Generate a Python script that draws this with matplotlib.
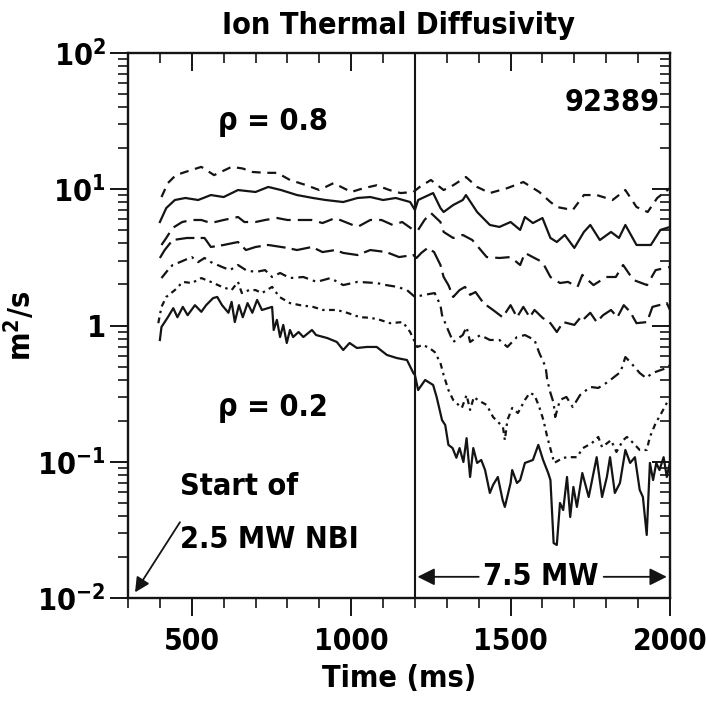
import matplotlib
matplotlib.use('Agg')
import matplotlib.pyplot as plt
import matplotlib.font_manager as fm
from matplotlib.ticker import FixedLocator, MultipleLocator, FixedFormatter, LogLocator, NullFormatter

# prefer a condensed bold face if one is installed, else Liberation Sans
cond = [f.name for f in fm.fontManager.ttflist
        if ('cond' in str(f.stretch) or 'narrow' in f.name.lower()) and str(f.weight) in ('700', 'bold')]
if cond:
    plt.rcParams['font.family'] = [cond[0], 'DejaVu Sans']
    plt.rcParams['font.stretch'] = 'condensed'
else:
    plt.rcParams['font.family'] = ['Liberation Sans', 'DejaVu Sans']
plt.rcParams['font.weight'] = 'bold'
plt.rcParams['mathtext.default'] = 'regular'
FS = 22

# rho = 0.8 side (top) down to rho = 0.2 (bottom)
t1 = [405, 425, 450, 480, 530, 570, 625, 660, 690, 730, 768, 808, 860, 900, 945, 1000, 1040, 1080, 1120, 1155,
      1195, 1215, 1250, 1290, 1320, 1360, 1395, 1435, 1490, 1540, 1590, 1625, 1645, 1695, 1730, 1770, 1820, 1860,
      1895, 1930, 1960, 2000]
chi1 = [8.77, 11.1, 12.7, 13.4, 14.6, 12.7, 14.6, 14.2, 13.4, 13.2, 13.2, 11.7, 10.7, 9.87, 11.1, 9.55, 10.2, 10.7,
        9.87, 9.38, 9.55, 10.4, 11.7, 9.87, 10.7, 12.3, 10.4, 9.38, 10.2, 11.3, 9.55, 8.06, 7.41, 7.04, 9.07, 9.07,
        8.34, 9.87, 7.41, 6.81, 8.63, 10.2]

t2 = [400, 420, 447, 480, 520, 560, 600, 645, 700, 740, 780, 830, 880, 920, 975, 1020, 1060, 1100, 1140, 1185,
      1200, 1210, 1230, 1257, 1280, 1290, 1320, 1350, 1360, 1395, 1435, 1465, 1500, 1530, 1545, 1570, 1600, 1625,
      1645, 1670, 1700, 1730, 1750, 1780, 1815, 1840, 1860, 1895, 1940, 1970, 2000]
chi2 = [5.75, 7.28, 8.34, 8.63, 8.34, 9.07, 8.77, 9.87, 9.55, 10.4, 9.87, 9.07, 8.63, 8.34, 8.06, 8.63, 8.77, 8.34,
        8.63, 8.06, 7.04, 8.34, 8.77, 9.38, 7.28, 6.81, 7.66, 8.34, 9.07, 6.81, 5.47, 5.29, 5.75, 5.03, 6.26, 5.65,
        6.15, 4.39, 4.10, 4.62, 3.71, 4.86, 5.47, 4.24, 4.86, 4.39, 5.47, 3.90, 3.90, 5.03, 5.29]

t3 = [405, 420, 440, 470, 500, 530, 560, 600, 645, 665, 700, 730, 768, 800, 830, 877, 910, 950, 1020, 1060, 1095,
      1130, 1160, 1195, 1210, 1230, 1250, 1280, 1290, 1320, 1350, 1380, 1425, 1465, 1500, 1530, 1545, 1575, 1600,
      1625, 1655, 1680, 1710, 1725, 1760, 1800, 1830, 1853, 1885, 1928, 1955, 2000]
chi3 = [3.90, 4.39, 5.20, 5.75, 5.95, 5.95, 5.65, 5.95, 6.26, 5.75, 5.75, 5.95, 6.15, 5.95, 5.95, 5.95, 5.65, 6.15,
        5.29, 5.95, 5.95, 5.47, 5.75, 5.03, 5.03, 5.95, 6.70, 5.75, 4.86, 4.39, 4.62, 4.24, 3.18, 3.13, 3.18, 2.78,
        3.41, 3.13, 2.92, 2.27, 2.05, 2.09, 1.92, 2.35, 1.98, 2.27, 2.27, 2.78, 2.16, 1.98, 2.55, 2.69]

t4 = [400, 415, 440, 485, 540, 560, 600, 645, 670, 700, 740, 800, 830, 877, 910, 950, 975, 1020, 1060, 1110, 1150,
      1195, 1205, 1220, 1240, 1260, 1280, 1290, 1305, 1320, 1340, 1357, 1373, 1390, 1415, 1445, 1475, 1500, 1520,
      1540, 1560, 1575, 1600, 1625, 1645, 1665, 1700, 1720, 1727, 1750, 1770, 1790, 1815, 1835, 1855, 1875, 1895,
      1928, 1945, 1990, 2000]
chi4 = [3.13, 3.58, 4.24, 4.39, 4.39, 3.77, 3.90, 4.10, 3.58, 3.77, 3.90, 3.71, 3.58, 3.77, 3.46, 3.58, 3.41, 3.29,
        3.58, 3.46, 3.18, 3.29, 3.13, 3.41, 3.71, 3.46, 2.78, 2.27, 1.98, 1.62, 1.82, 1.92, 1.68, 1.76, 1.46, 1.30,
        1.15, 1.41, 1.15, 1.37, 1.15, 1.30, 1.14, 1.04, 0.896, 1.06, 1.01, 1.15, 1.10, 1.24, 1.06, 1.19, 1.30, 1.15,
        1.41, 1.26, 1.04, 1.06, 1.37, 1.46, 1.30]

t5 = [405, 425, 440, 463, 500, 520, 540, 560, 595, 620, 645, 670, 700, 730, 752, 777, 808, 850, 892, 935, 975,
      1020, 1080, 1110, 1145, 1175, 1200, 1230, 1262, 1280, 1285, 1300, 1320, 1350, 1362, 1373, 1405, 1435, 1465,
      1490, 1520, 1545, 1575, 1590, 1610, 1615, 1625, 1635, 1640, 1655, 1675, 1695, 1718, 1750, 1775, 1805, 1845,
      1860, 1875, 1905, 1925, 1945, 1990, 2000]
chi5 = [2.23, 2.55, 2.78, 2.92, 3.18, 2.92, 3.13, 2.92, 2.69, 2.55, 2.78, 2.55, 2.47, 2.55, 2.27, 2.43, 2.23, 2.27,
        2.09, 2.23, 1.98, 2.09, 2.05, 1.98, 1.92, 1.82, 1.62, 1.68, 1.73, 1.41, 1.19, 0.975, 0.757, 0.851, 0.975,
        0.757, 0.851, 0.783, 0.783, 0.696, 0.823, 0.851, 0.783, 0.629, 0.496, 0.398, 0.320, 0.270, 0.213, 0.284,
        0.299, 0.252, 0.309, 0.354, 0.348, 0.385, 0.456, 0.587, 0.540, 0.448, 0.412, 0.448, 0.488, 0.513]

t6 = [395, 405, 420, 447, 472, 500, 530, 560, 595, 625, 645, 657, 680, 700, 720, 752, 775, 808, 840, 880, 912, 955,
      987, 1028, 1060, 1090, 1122, 1162, 1185, 1207, 1225, 1245, 1262, 1280, 1290, 1305, 1320, 1347, 1362, 1373,
      1385, 1397, 1425, 1445, 1476, 1482, 1490, 1505, 1523, 1545, 1560, 1575, 1590, 1603, 1615, 1637, 1665, 1690,
      1708, 1727, 1755, 1775, 1787, 1815, 1832, 1853, 1865, 1885, 1905, 1927, 1937, 1955, 1975, 1995]
chi6 = [1.04, 1.37, 1.62, 1.82, 2.09, 2.05, 2.23, 2.09, 1.92, 1.82, 2.09, 1.73, 1.82, 1.82, 1.73, 1.92, 1.62, 1.46,
        1.41, 1.37, 1.30, 1.30, 1.24, 1.15, 1.14, 1.10, 1.04, 1.06, 0.896, 0.696, 0.720, 0.684, 0.639, 0.531, 0.433,
        0.336, 0.284, 0.248, 0.309, 0.240, 0.299, 0.284, 0.261, 0.213, 0.180, 0.144, 0.202, 0.248, 0.228, 0.284,
        0.320, 0.309, 0.252, 0.202, 0.152, 0.098, 0.107, 0.108, 0.108, 0.126, 0.137, 0.152, 0.128, 0.144, 0.118,
        0.144, 0.152, 0.137, 0.122, 0.122, 0.152, 0.192, 0.232, 0.284]

t7 = [400, 405, 425, 442, 455, 472, 487, 510, 530, 545, 567, 580, 595, 615, 625, 635, 648, 660, 675, 690, 705, 720,
      752, 757, 767, 777, 787, 798, 808, 818, 835, 850, 877, 890, 925, 955, 975, 995, 1018, 1050, 1080, 1112, 1143,
      1175, 1195, 1200, 1210, 1232, 1257, 1268, 1285, 1295, 1305, 1318, 1330, 1340, 1352, 1362, 1373, 1383, 1395,
      1408, 1420, 1435, 1445, 1460, 1475, 1482, 1500, 1505, 1520, 1530, 1545, 1570, 1587, 1602, 1618, 1625, 1635,
      1645, 1655, 1665, 1677, 1687, 1697, 1708, 1725, 1745, 1770, 1787, 1802, 1812, 1827, 1843, 1860, 1875, 1890,
      1905, 1915, 1927, 1937, 1947, 1957, 1967, 1980, 1990, 2000]
chi7 = [0.783, 0.975, 1.15, 1.34, 1.15, 1.37, 1.19, 1.41, 1.26, 1.41, 1.59, 1.62, 1.41, 1.24, 1.49, 1.06, 1.41,
        1.15, 1.46, 1.24, 1.54, 1.30, 1.37, 0.927, 1.10, 0.823, 1.01, 0.744, 0.927, 0.823, 0.896, 0.823, 0.927,
        0.851, 0.809, 0.757, 0.661, 0.744, 0.684, 0.696, 0.696, 0.608, 0.577, 0.558, 0.448, 0.433, 0.336, 0.398,
        0.366, 0.299, 0.202, 0.186, 0.133, 0.126, 0.107, 0.126, 0.0996, 0.149, 0.0773, 0.126, 0.098, 0.103, 0.0869,
        0.059, 0.0675, 0.0773, 0.0524, 0.0466, 0.0698, 0.0869, 0.0698, 0.0734, 0.098, 0.103, 0.133, 0.103, 0.0826,
        0.0734, 0.0253, 0.0245, 0.0498, 0.0442, 0.0773, 0.0393, 0.0653, 0.0466, 0.0826, 0.0551, 0.108, 0.0551,
        0.0773, 0.108, 0.059, 0.0698, 0.122, 0.098, 0.108, 0.0621, 0.0551, 0.029, 0.098, 0.0734, 0.098, 0.0869,
        0.108, 0.0773, 0.0996]

y_ticks = [1e-2, 1e-1, 1, 1e1, 1e2]
y_labels = [r'$10^{-2}$', r'$10^{-1}$', '1', r'$10^{1}$', r'$10^{2}$']
x_ticks = [500, 1000, 1500, 2000]

t_switch = 1200  # 2.5 MW -> 7.5 MW
t_nbi = 300

curves = [(t1, chi1, (0, (4, 3))),
          (t2, chi2, '-'),
          (t3, chi3, (0, (6.5, 3.2))),
          (t4, chi4, (0, (8.5, 2.8))),
          (t5, chi5, (0, (4.5, 2.3, 1.1, 2.3))),
          (t6, chi6, (0, (2.6, 2, 1.1, 2))),
          (t7, chi7, '-')]

fig = plt.figure(figsize=(7.06, 7.08), dpi=100)
ax = fig.add_axes([0.1813, 0.1554, 0.7677, 0.7697])

for t, chi, ls in curves:
    ax.plot(t, chi, color='#141414', lw=1.6, ls=ls)

ax.axvline(t_switch, color='#141414', lw=1.5)

ax.set_yscale('log')
ax.set_xlim(300, 2000)
ax.set_ylim(1e-2, 1e2)

ax.xaxis.set_major_locator(FixedLocator(x_ticks))
ax.xaxis.set_minor_locator(MultipleLocator(100))
ax.yaxis.set_major_locator(FixedLocator(y_ticks))
ax.yaxis.set_major_formatter(FixedFormatter(y_labels))
ax.yaxis.set_minor_locator(LogLocator(base=10, subs=range(2, 10)))
ax.yaxis.set_minor_formatter(NullFormatter())

ax.tick_params(axis='both', which='both', direction='out', top=True, right=True,
               labelsize=FS, color='#141414')
ax.tick_params(axis='x', which='major', pad=8, labelsize=21.5)
ax.tick_params(axis='y', which='major', pad=3)
ax.tick_params(which='major', length=13, width=1.4)
ax.tick_params(which='minor', length=7, width=1.2)
# top and right ticks point into the box
for tk in ax.xaxis.get_major_ticks() + ax.xaxis.get_minor_ticks():
    tk.tick2line.set_marker(3)
for tk in ax.yaxis.get_major_ticks() + ax.yaxis.get_minor_ticks():
    tk.tick2line.set_marker(0)

for s in ax.spines.values():
    s.set_linewidth(1.7)
    s.set_color('#141414')

ax.set_xlabel('Time (ms)', fontsize=FS, fontweight='bold', labelpad=6)
ax.set_ylabel(r'm$^2$/s', fontsize=FS, fontweight='bold')
ax.yaxis.set_label_coords(-0.168, 0.5)
ax.set_title('Ion Thermal Diffusivity', fontsize=FS, fontweight='bold', pad=14)

ax.text(582, 31, '\u03c1 = 0.8', fontsize=FS, ha='left', va='center')
ax.text(582, 0.245, '\u03c1 = 0.2', fontsize=FS, ha='left', va='center')
ax.text(1969, 43, '92389', fontsize=FS, ha='right', va='center')
ax.text(463, 0.066, 'Start of', fontsize=FS, ha='left', va='center')
ax.text(463, 0.027, '2.5 MW NBI', fontsize=FS, ha='left', va='center')
ax.annotate('', xy=(322, 0.011), xytext=(463, 0.036),
            arrowprops=dict(arrowstyle='-|>', color='#141414', lw=1.3, mutation_scale=22, shrinkA=0, shrinkB=0))
ax.text(1595, 0.0143, '7.5 MW', fontsize=FS, ha='center', va='center')
ax.annotate('', xy=(t_switch + 8, 0.0143), xytext=(1400, 0.0143),
            arrowprops=dict(arrowstyle='-|>', color='#141414', lw=1.3, mutation_scale=26, shrinkA=0, shrinkB=0))
ax.annotate('', xy=(1990, 0.0143), xytext=(1792, 0.0143),
            arrowprops=dict(arrowstyle='-|>', color='#141414', lw=1.3, mutation_scale=26, shrinkA=0, shrinkB=0))

fig.savefig('out.png', dpi=100)
